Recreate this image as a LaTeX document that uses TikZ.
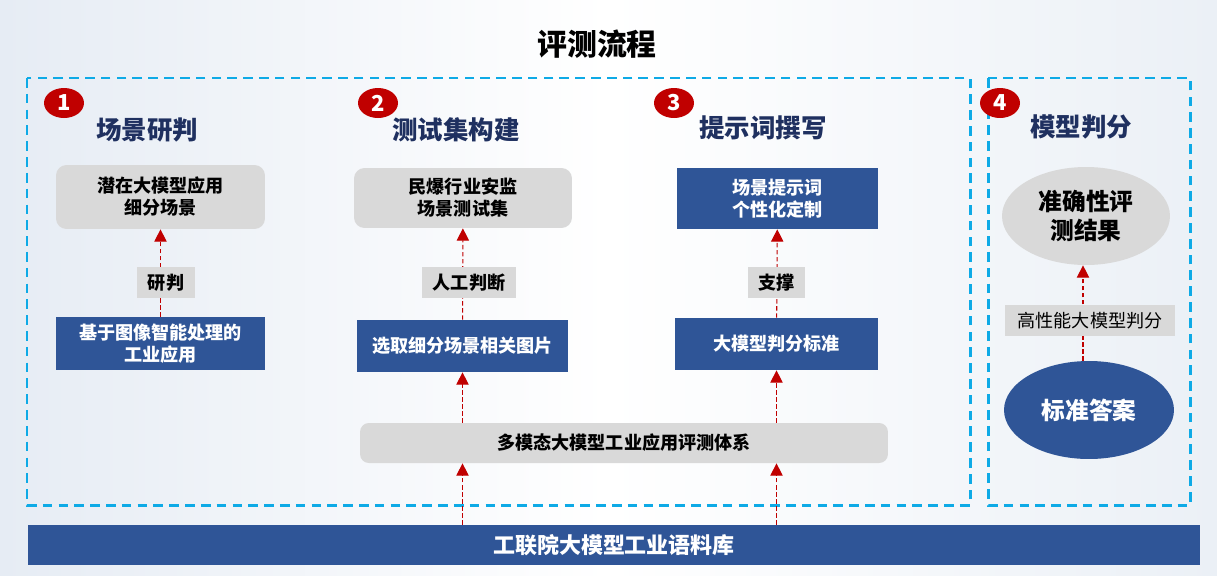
\documentclass[tikz,border=0pt]{standalone}
\usepackage{fontspec}
\setmainfont{Noto Sans CJK SC}
\usetikzlibrary{arrows.meta,shapes.geometric}
\definecolor{dblue}{HTML}{2F5597}
\definecolor{lgray}{HTML}{D9D9D9}
\definecolor{dred}{HTML}{C00000}
\definecolor{cyanb}{HTML}{0EAAE6}
\definecolor{navy}{HTML}{1F3060}
\definecolor{bgl}{HTML}{E6ECF4}
\definecolor{bgr}{HTML}{EBF0F6}
\tikzset{
  px/.style={x=0.02cm,y=-0.02cm},
  graybox/.style={fill=lgray,rounded corners=6pt,align=center,font=\bfseries\fontsize{10.3}{12.5}\selectfont,inner sep=0pt},
  bluebox/.style={fill=dblue,align=center,text=white,font=\bfseries\fontsize{10.3}{12.5}\selectfont,inner sep=0pt},
  lbl/.style={fill=lgray,align=center,font=\bfseries\fontsize{10.3}{12}\selectfont,inner sep=0pt,minimum height=0.62cm},
  arr/.style={draw=dred,line width=0.6pt,dash pattern=on 2.5pt off 1.5pt,-{Triangle[width=7pt,length=7pt,fill=dred]}},
  frame/.style={draw=cyanb,line width=1.7pt,dash pattern=on 5.5pt off 3.5pt},
  badge/.style={ellipse,fill=dred,text=white,minimum width=0.8cm,minimum height=0.6cm,inner sep=0pt,font=\bfseries\fontsize{12.5}{12.5}\selectfont},
  heading/.style={text=navy,font=\bfseries\fontsize{14.5}{16}\selectfont,inner sep=0pt},
}
\begin{document}
\begin{tikzpicture}[px]
\useasboundingbox (0,0) rectangle (1217,575);
\shade[left color=bgl,right color=bgr,middle color=white] (0,0) rectangle (1217,575);
% title
\node[font=\bfseries\fontsize{17}{19}\selectfont,inner sep=0pt] (title) at (597,44) {评测流程};
% frames
\draw[frame] (27,78) rectangle (970,505);
\draw[frame] (988,78) rectangle (1190,505);
% badges and headings
\node[badge] (n1) at (64,103) {1};
\node[badge] (n2) at (378,103) {2};
\node[badge] (n3) at (674,103) {3};
\node[badge] (n4) at (1000,103) {4};
\node[heading] (h1) at (147,130) {场景研判};
\node[heading] (h2) at (456,130) {测试集构建};
\node[heading] (h3) at (763,128) {提示词撰写};
\node[heading] (h4) at (1081,127) {模型判分};
% phase 1
\node[graybox,minimum width=4.18cm,minimum height=1.28cm] (g1) at (160.5,197) {潜在大模型应用\\细分场景};
\node[bluebox,minimum width=4.18cm,minimum height=1.06cm] (b1) at (160.5,343.5) {基于图像智能处理的\\工业应用};
% phase 2
\node[graybox,minimum width=4.36cm,minimum height=1.2cm] (g2) at (463,198) {民爆行业安监\\场景测试集};
\node[bluebox,minimum width=4.22cm,minimum height=1.04cm] (b2) at (462.5,346) {选取细分场景相关图片};
% phase 3
\node[bluebox,minimum width=4.02cm,minimum height=1.22cm] (g3) at (777.5,198.5) {场景提示词\\个性化定制};
\node[bluebox,minimum width=4.06cm,minimum height=1.04cm] (b3) at (776.5,344) {大模型判分标准};
% system
\node[graybox,rounded corners=5pt,minimum width=10.56cm,minimum height=0.8cm] (sys) at (624,443) {多模态大模型工业应用评测体系};
% bottom bar
\node[bluebox,minimum width=23.44cm,minimum height=0.8cm,font=\bfseries\fontsize{12.5}{14}\selectfont] (bar) at (614,545) {工联院大模型工业语料库};
% phase 4
\node[ellipse,fill=lgray,minimum width=3.36cm,minimum height=1.96cm,inner sep=0pt,align=center,font=\bfseries\fontsize{13.5}{17}\selectfont] (e1) at (1086,216) {准确性评\\测结果};
\node[ellipse,fill=dblue,text=white,minimum width=3.4cm,minimum height=1.96cm,inner sep=0pt,font=\bfseries\fontsize{13.5}{15}\selectfont] (e2) at (1089,410) {标准答案};
% arrows
\draw[arr] (b1) -- (g1);
\draw[arr] (b2) -- (g2);
\draw[arr] (b3) -- (g3);
\draw[arr] (sys.north -| b2) -- (b2.south);
\draw[arr] (sys.north -| b3) -- (b3.south);
\draw[arr] (bar.north -| b2) -- (sys.south -| b2);
\draw[arr] (bar.north -| b3) -- (sys.south -| b3);
\draw[arr] (e2.north -| 1083,0) -- (e1.south -| 1083,0);
% labels
\node[lbl,minimum width=1.16cm] (l1) at (166,282.5) {研判};
\node[lbl,minimum width=1.88cm] (l2) at (469,282.5) {人工判断};
\node[lbl,minimum width=1.14cm] (l3) at (776.5,282.5) {支撑};
\node[lbl,minimum width=3.4cm,font=\fontsize{10.3}{12}\selectfont] (l4) at (1090,320.5) {高性能大模型判分};
\end{tikzpicture}
\end{document}
